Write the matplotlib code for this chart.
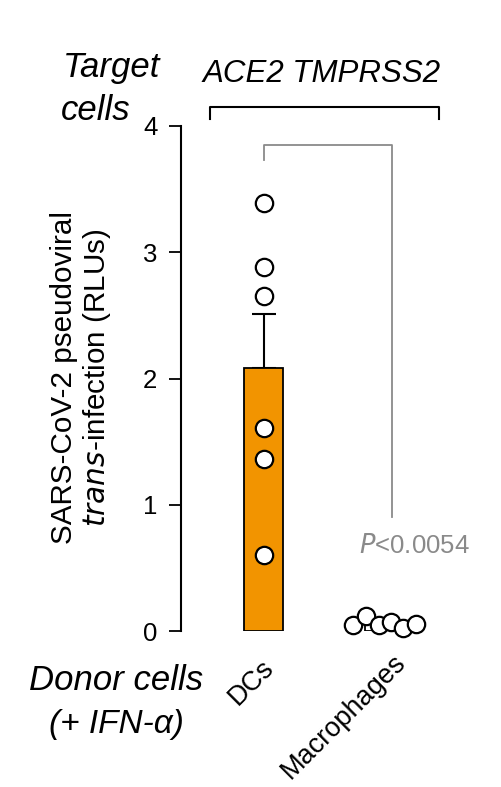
import numpy as np
import matplotlib
matplotlib.use("Agg")
import matplotlib.pyplot as plt
import matplotlib.transforms as mtransforms

plt.rcParams['font.family'] = ['Liberation Sans', 'DejaVu Sans']

# data
groups = ["DCs", "Macrophages"]
dcs_pts = [3.39, 2.88, 2.65, 1.61, 1.36, 0.60]
mac_pts = [0.05, 0.12, 0.05, 0.07, 0.02, 0.055]
mac_jitter = [-0.26, -0.155, -0.05, 0.05, 0.15, 0.26]
yticks = [0, 1, 2, 3, 4]
pval_text = "<0.0054"

orange = "#F29400"
grey = "#8a8a8a"

fig = plt.figure(figsize=(5.02, 7.87), dpi=100)
ax = fig.add_axes([0.3606, 0.1982, 0.5956, 0.6417])

means = [np.mean(dcs_pts), np.mean(mac_pts)]
sems = [np.std(dcs_pts, ddof=1) / np.sqrt(len(dcs_pts)),
        np.std(mac_pts, ddof=1) / np.sqrt(len(mac_pts))]

x = np.arange(len(groups))
ax.bar(x[0], means[0], width=0.32, color=orange, edgecolor="k", lw=1.3, zorder=2)
ax.bar(x[1], means[1], width=0.32, color="w", edgecolor="k", lw=1.3, zorder=2)
ax.errorbar(x[0], means[0], yerr=[[0], [sems[0]]], fmt="none", ecolor="k",
            elinewidth=1.5, capsize=8.5, capthick=1.5, zorder=1)

ax.plot([x[0]] * len(dcs_pts), dcs_pts, "o", ms=12.5, mfc="w", mec="k", mew=1.6,
        zorder=3, clip_on=False)
ax.plot(x[1] + np.array(mac_jitter), mac_pts, "o", ms=12.5, mfc="w", mec="k",
        mew=1.6, zorder=3, clip_on=False)

# significance bracket
ax.plot([0.0, 0.0, 1.06, 1.06], [3.73, 3.85, 3.85, 0.90], color=grey, lw=1.3,
        clip_on=False)
ax.text(1.24, 0.62, "$\\mathit{P}$" + pval_text, color=grey, fontsize=18.5,
        ha="center", va="baseline")

# target cells bracket
ax.plot([-0.44, -0.44, 1.445, 1.445], [4.055, 4.15, 4.15, 4.055], color="k",
        lw=1.5, clip_on=False)
ax.text(0.48, 4.35, "ACE2 TMPRSS2", fontsize=22.5, style="italic", ha="center",
        va="baseline")

ax.set_xlim(-0.681, 1.786)
ax.set_ylim(0, 4)
ax.set_yticks(yticks)
ax.set_yticklabels([str(t) for t in yticks], fontsize=18.5)
ax.tick_params(axis="y", length=9, width=1.3, pad=8)
ax.set_xticks(x)
ax.set_xticklabels(groups, fontsize=19.5, rotation=45, ha="right", va="top",
                   rotation_mode="anchor")
ax.tick_params(axis="x", length=0, pad=19)
# small nudges (pixels) so labels sit where the reference has them
for lab, (dx, dy) in zip(ax.get_xticklabels(), [(-3, 3), (8, 8)]):
    shift = mtransforms.ScaledTranslation(dx / 100, dy / 100, fig.dpi_scale_trans)
    lab.set_transform(lab.get_transform() + shift)
for s in ["top", "right", "bottom"]:
    ax.spines[s].set_visible(False)
ax.spines["left"].set_linewidth(1.5)

# y label, two lines with italic "trans"
fig.text(0.128, 0.52, "SARS-CoV-2 pseudoviral", rotation=90, fontsize=21.3,
         ha="center", va="center")
fig.text(0.194, 0.52, "$\\mathit{trans}$-infection (RLUs)", rotation=90,
         fontsize=21.3, ha="center", va="center")

fig.text(0.223, 0.902, "Target", fontsize=25, style="italic", ha="center",
         va="baseline")
fig.text(0.19, 0.847, "cells", fontsize=25, style="italic", ha="center",
         va="baseline")
fig.text(0.231, 0.123, "Donor cells", fontsize=25, style="italic", ha="center",
         va="baseline")
fig.text(0.231, 0.069, "(+ IFN-α)", fontsize=24, style="italic", ha="center",
         va="baseline")

fig.savefig("out.png", dpi=100)
